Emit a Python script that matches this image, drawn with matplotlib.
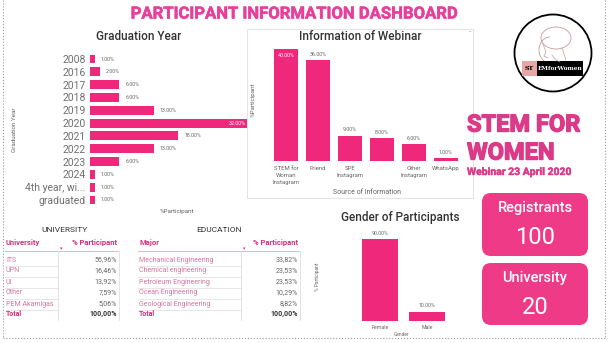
import matplotlib
matplotlib.use("Agg")
import matplotlib.pyplot as plt
import matplotlib.patheffects as pe
from matplotlib.patches import FancyBboxPatch, Circle, Rectangle, Ellipse, Arc

plt.rcParams['font.family'] = ['Roboto', 'DejaVu Sans']

# ---- data ----
grad_years = ['2008', '2016', '2017', '2018', '2019', '2020', '2021', '2022',
              '2023', '2024', '4th year, wi...', 'graduated']
grad_pct = [1, 2, 6, 6, 13, 32, 18, 13, 6, 1, 1, 1]

info_sources = ['STEM for\nWoman\nInstagram', 'Friend', 'SPE\nInstagram', '',
                'Other\nInstagram', 'WhatsApp']
info_pct = [40, 36, 9, 8, 6, 1]

genders = ['Female', 'Male']
gender_pct = [90, 10]

universities = ['ITS', 'UPN', 'UI', 'Other', 'PEM Akamigas']
university_pct = ['56,96%', '16,46%', '13,92%', '7,59%', '5,06%']

majors = ['Mechanical Engineering', 'Chemical engineering', 'Petroleum Engineering',
          'Ocean Engineering', 'Geological Engineering']
major_pct = ['33,82%', '23,53%', '23,53%', '10,29%', '8,82%']

registrants = 100
n_universities = 20

# ---- style ----
W, H = 608, 343
BAR = '#f0287c'
TITLE_PINK = '#e8409a'
STEM_PINK = '#dc3a88'
BOX_PINK = '#ef3a88'
ROW_PINK = '#d6759f'
HEAD_PINK = '#d6307f'
GRAY = '#666666'
DARK = '#333333'

fig = plt.figure(figsize=(W / 100, H / 100), dpi=100)
fig.patch.set_facecolor('white')

bg = fig.add_axes([0, 0, 1, 1], zorder=0)
bg.set_xlim(0, W)
bg.set_ylim(H, 0)
bg.axis('off')


def panel(x0, y0, x1, y1):
    ax = fig.add_axes([x0 / W, 1 - y1 / H, (x1 - x0) / W, (y1 - y0) / H], zorder=2)
    ax.set_facecolor('none')
    for s in ax.spines.values():
        s.set_visible(False)
    return ax


def heavy(color, w):
    return [pe.withStroke(linewidth=w, foreground=color)]


# dotted page border
bg.plot([3, 3], [0, 338], ls=':', color='#999999', lw=0.8)
bg.plot([605, 605], [0, 338], ls=':', color='#999999', lw=0.8)
bg.plot([3, 605], [338, 338], ls=':', color='#999999', lw=0.8)

# main title
bg.text(294, 14, 'PARTICIPANT INFORMATION DASHBOARD', color=TITLE_PINK,
        fontsize=12, fontweight='bold', ha='center', va='center',
        path_effects=heavy(TITLE_PINK, 0.4))

# ---- graduation year ----
bg.text(139, 36, 'Graduation Year', color=DARK, fontsize=8.5, fontweight='medium',
        ha='center', va='center')
ax1 = panel(90, 52.6, 247, 206.4)
ypos = list(range(len(grad_years)))
ax1.barh(ypos, grad_pct, height=0.7, color=BAR)
ax1.set_xlim(0, 32)
ax1.set_ylim(len(grad_years) - 0.5, -0.5)
ax1.set_yticks(ypos)
ax1.set_yticklabels(grad_years, fontsize=7.5, color='#707070')
ax1.tick_params(axis='y', length=0, pad=3)
ax1.set_xticks([])
for y, v in zip(ypos, grad_pct):
    lab = f'{v:.2f}%'
    if v >= 30:
        ax1.text(v - 0.3, y, lab, fontsize=3.8, color='white', ha='right', va='center')
    else:
        ax1.text(v + 1.2, y, lab, fontsize=3.8, color=GRAY, ha='left', va='center')
bg.text(15, 130, 'Graduation Year', rotation=90, fontsize=4.5, color=GRAY,
        ha='center', va='center')
bg.text(177, 212, '%Participant', fontsize=4.5, color=GRAY, ha='center', va='center')

# ---- information of webinar ----
bg.add_patch(Rectangle((247, 29), 226, 169, fill=False, ec='#e4e4e4', lw=0.8))
bg.text(360, 36, 'Information of Webinar', color=DARK, fontsize=8.5, fontweight='medium',
        ha='center', va='center')
bg.text(470, 31, '..', color=GRAY, fontsize=5, ha='center', va='center')
ax2 = panel(270, 49, 462, 160.7)
xpos = list(range(len(info_sources)))
ax2.bar(xpos, info_pct, width=0.78, color=BAR)
ax2.set_ylim(0, 40)
ax2.set_xlim(-0.5, len(info_sources) - 0.5)
ax2.set_xticks(xpos)
ax2.set_xticklabels(info_sources, fontsize=4.3, color=GRAY, linespacing=1.5)
ax2.tick_params(axis='x', length=0, pad=4)
ax2.set_yticks([])
for x, v in zip(xpos, info_pct):
    lab = f'{v:.2f}%'
    if v >= 38:
        ax2.text(x, v - 2.5, lab, fontsize=3.8, color='white', ha='center', va='center')
    else:
        ax2.text(x, v + 2.0, lab, fontsize=3.8, color=GRAY, ha='center', va='center')
bg.text(253, 100, '%Participant', rotation=90, fontsize=4.5, color=GRAY,
        ha='center', va='center')
bg.text(367, 193, 'Source of Information', fontsize=5, color=GRAY,
        ha='center', va='center')

# ---- gender ----
bg.text(400, 218, 'Gender of Participants', color=DARK, fontsize=8.5, fontweight='medium',
        ha='center', va='center')
ax3 = panel(356.5, 239, 450.5, 321)
gpos = list(range(len(genders)))
ax3.bar(gpos, gender_pct, width=0.76, color=BAR)
ax3.set_ylim(0, 90)
ax3.set_xlim(-0.5, len(genders) - 0.5)
ax3.set_xticks(gpos)
ax3.set_xticklabels(genders, fontsize=3.8, color=GRAY)
ax3.tick_params(axis='x', length=0, pad=3)
ax3.set_yticks([])
for x, v in zip(gpos, gender_pct):
    ax3.text(x, v + 6.5, f'{v:.2f}%', fontsize=3.8, color=GRAY, ha='center', va='center')
bg.text(318, 277, '% Participant', rotation=90, fontsize=3.5, color=GRAY,
        ha='center', va='center')
bg.text(402, 335, 'Gender', fontsize=3.5, color=GRAY, ha='center', va='center')

# ---- tables ----
def table(title, title_x, x0, xsep, x1, head1, names, values):
    bg.text(title_x, 230, title, fontsize=6, color=DARK, ha='center', va='center')
    bg.text(x0 + 1, 243, head1, fontsize=5.5, fontweight='bold', color=HEAD_PINK,
            ha='left', va='center')
    bg.text(x1 - 1, 243, '% Participant', fontsize=5.5, fontweight='bold',
            color=HEAD_PINK, ha='right', va='center')
    bg.text(xsep + 2, 249, '\u25be', fontsize=3.5, color=HEAD_PINK, ha='left', va='center')
    bg.plot([x0, x1], [251, 251], color='#e7a6c3', lw=0.6)
    bg.plot([xsep, xsep], [251, 320], color='#d8d8d8', lw=0.5)
    bg.plot([x1 + 1, x1 + 1], [251, 320], color='#d8d8d8', lw=0.5)
    yy = 260
    for n, v in zip(names, values):
        bg.text(x0 + 1, yy, n, fontsize=5, color=ROW_PINK, ha='left', va='center')
        bg.text(x1 - 1, yy, v, fontsize=5, color=GRAY, ha='right', va='center')
        bg.plot([x0, xsep], [yy + 5.5, yy + 5.5], color='#dcdcdc', lw=0.5)
        yy += 11
    bg.text(x0 + 1, 314, 'Total', fontsize=5, fontweight='bold', color=HEAD_PINK,
            ha='left', va='center')
    bg.text(x1 - 1, 314, '100,00%', fontsize=5, fontweight='bold', color=DARK,
            ha='right', va='center')


table('UNIVERSITY', 64, 5, 58, 118, 'University', universities, university_pct)
table('EDUCATION', 219, 138, 241, 299, 'Major', majors, major_pct)

# ---- logo ----
bg.add_patch(Circle((553, 53), 38.5, fill=False, ec='black', lw=1.3))
sketch = '#c79a9a'
bg.add_patch(Ellipse((556, 38), 30, 22, fill=False, ec=sketch, lw=0.6))
bg.add_patch(Arc((550, 50), 22, 26, theta1=90, theta2=270, ec=sketch, lw=0.6))
bg.plot([543, 546, 544, 548], [44, 52, 56, 58], color=sketch, lw=0.5)
bg.plot([552, 556, 560], [55, 60, 62], color=sketch, lw=0.5)
bg.plot([562, 566], [48, 60], color=sketch, lw=0.5)
bg.add_patch(Rectangle((522, 61), 15, 15, fc='#e8a6a6', ec='none'))
bg.add_patch(Rectangle((537, 61), 46, 15, fc='black', ec='none'))
bg.text(529.5, 68.5, 'ST', fontsize=4.5, fontweight='bold', color='black',
        family='DejaVu Serif', ha='center', va='center')
bg.text(560, 68.5, 'EMforWomen', fontsize=4.2, fontweight='bold', color='white',
        family='DejaVu Serif', ha='center', va='center')

# ---- headline ----
bg.text(467, 125, 'STEM FOR', color=STEM_PINK, fontsize=17, fontweight='bold',
        ha='left', va='center', path_effects=heavy(STEM_PINK, 1.0))
bg.text(467, 153, 'WOMEN', color=STEM_PINK, fontsize=17, fontweight='bold',
        ha='left', va='center', path_effects=heavy(STEM_PINK, 1.0))
bg.text(467, 172, 'Webinar 23 April 2020', color=STEM_PINK, fontsize=7.5,
        fontweight='bold', ha='left', va='center', path_effects=heavy(STEM_PINK, 0.3))

# ---- KPI cards ----
def card(y0, y1, label, value):
    bg.add_patch(FancyBboxPatch((482, y0), 106, y1 - y0,
                                boxstyle='round,pad=0,rounding_size=9',
                                fc=BOX_PINK, ec='none'))
    bg.text(535, y0 + 15, label, color='white', fontsize=10.5, fontweight='medium',
            ha='center', va='center')
    bg.text(535, y0 + 44, str(value), color='white', fontsize=17,
            ha='center', va='center')


card(193, 256, 'Registrants', registrants)
card(263, 325, 'University', n_universities)

fig.savefig('out.png', dpi=100, facecolor='white')
